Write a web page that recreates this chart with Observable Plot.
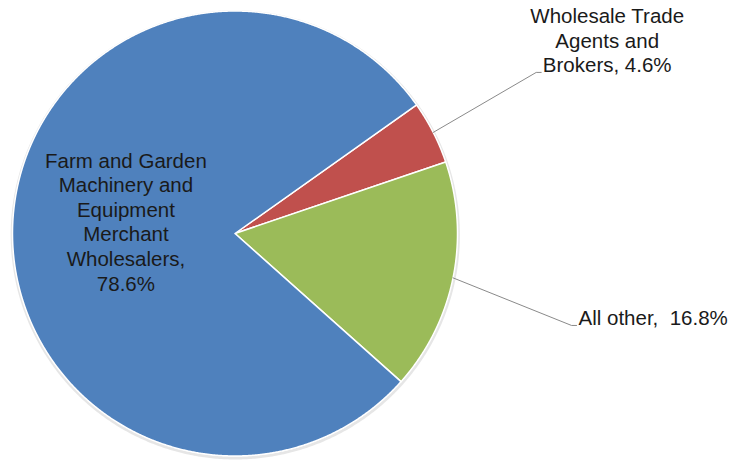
<!DOCTYPE html>
<html><head><meta charset="utf-8">
<script src="https://cdn.jsdelivr.net/npm/d3@7"></script>
<script src="https://cdn.jsdelivr.net/npm/@observablehq/plot@0.6"></script>
<style>body{margin:0;background:#fff} #chart{width:729px;height:462px}</style>
</head><body><div id="chart"></div>
<script>
// ---- data ----
const categories = ["Wholesale Trade Agents and Brokers", "All other", "Farm and Garden Machinery and Equipment Merchant Wholesalers"];
const shares = [4.6, 16.8, 78.6];
const sliceColors = ["#C0504D", "#9BBB59", "#4F81BD"];
const labelLines = [
  ["Wholesale Trade", "Agents and", "Brokers, 4.6%"],
  ["All other,  16.8%"],
  ["Farm and Garden", "Machinery and", "Equipment", "Merchant", "Wholesalers,", "78.6%"]
];

// ---- layout ----
const W = 729, H = 462;
const cx = 234.5, cy = 233, R = 222.5;
const startDeg = 54.7;
// label placement: "outside" uses a leader line, "inside" sits at the slice centroid
const labelLayout = [
  {mode: "outside", elbow: [103, -60], tail: 5, text: [66, 0], anchor: "middle", line: "bottom"},
  {mode: "outside", elbow: [118.5, 47.6], tail: 5, text: [2, 0], anchor: "start", line: "bottom"},
  {mode: "inside", text: [2, -6], anchor: "middle", line: "middle"}
];

const rows = categories.map((c, i) => ({key: c, share: shares[i], color: sliceColors[i], label: labelLines[i].join("\n"), layout: labelLayout[i]}));
const a0 = startDeg * Math.PI / 180;
const arcs = d3.pie().sort(null).value(d => d.share).startAngle(a0).endAngle(a0 + 2 * Math.PI)(rows);

const px = (a, r) => cx + r * Math.sin(a);
const py = (a, r) => cy - r * Math.cos(a);

// slice polygons
const slicePts = [];
for (const arc of arcs) {
  const k = arc.data.key, col = arc.data.color;
  slicePts.push({key: k, color: col, x: cx, y: cy});
  const n = Math.max(2, Math.ceil((arc.endAngle - arc.startAngle) / (Math.PI / 720)));
  for (let j = 0; j <= n; j++) {
    const a = arc.startAngle + (arc.endAngle - arc.startAngle) * j / n;
    slicePts.push({key: k, color: col, x: px(a, R), y: py(a, R)});
  }
  slicePts.push({key: k, color: col, x: cx, y: cy});
}
// soft shadow ring
const shadowPts = d3.range(0, 721).map(j => {
  const a = j / 720 * 2 * Math.PI;
  return {x: px(a, R + 0.6) + 0.3, y: py(a, R + 0.6) + 1.4};
});

// leaders and labels
const leaderPts = [];
const labels = [];
for (const arc of arcs) {
  const L = arc.data.layout, mid = (arc.startAngle + arc.endAngle) / 2;
  if (L.mode === "outside") {
    const s = [px(mid, R), py(mid, R)];
    const e = [s[0] + L.elbow[0], s[1] + L.elbow[1]];
    const t = [e[0] + L.tail, e[1]];
    leaderPts.push({key: arc.data.key, x: s[0], y: s[1]}, {key: arc.data.key, x: e[0], y: e[1]}, {key: arc.data.key, x: t[0], y: t[1]});
    labels.push({text: arc.data.label, x: t[0] + L.text[0], y: t[1] + L.text[1], anchor: L.anchor, line: L.line});
  } else {
    labels.push({text: arc.data.label, x: px(mid, R / 2) + L.text[0], y: py(mid, R / 2) + L.text[1], anchor: L.anchor, line: L.line});
  }
}

const textMarks = [];
for (const anchor of ["start", "middle", "end"]) for (const line of ["top", "middle", "bottom"]) {
  const sub = labels.filter(d => d.anchor === anchor && d.line === line);
  if (sub.length) textMarks.push(Plot.text(sub, {x: "x", y: "y", text: "text", textAnchor: anchor, lineAnchor: line,
    fontSize: 20.5, lineHeight: 1.2, fill: "#1a1a1a", fontFamily: "Liberation Sans, Arial, sans-serif", letterSpacing: "0.35px"}));
}

const chart = Plot.plot({
  width: W, height: H, margin: 0,
  style: {background: "#fff", fontFamily: "Liberation Sans, Arial, sans-serif"},
  x: {domain: [0, W], range: [0, W], axis: null},
  y: {domain: [0, H], range: [0, H], axis: null},
  color: {type: "identity"},
  marks: [
    Plot.line(shadowPts, {x: "x", y: "y", stroke: "#9a9a9a", strokeWidth: 3, strokeOpacity: 0.25}),
    Plot.line(slicePts, {x: "x", y: "y", z: "key", fill: "color", stroke: "white", strokeWidth: 1.5, strokeLinejoin: "round"}),
    Plot.line(leaderPts, {x: "x", y: "y", z: "key", stroke: "#8a8a8a", strokeWidth: 1}),
    ...textMarks
  ]
});
document.getElementById("chart").appendChild(chart);
</script>
</body></html>
